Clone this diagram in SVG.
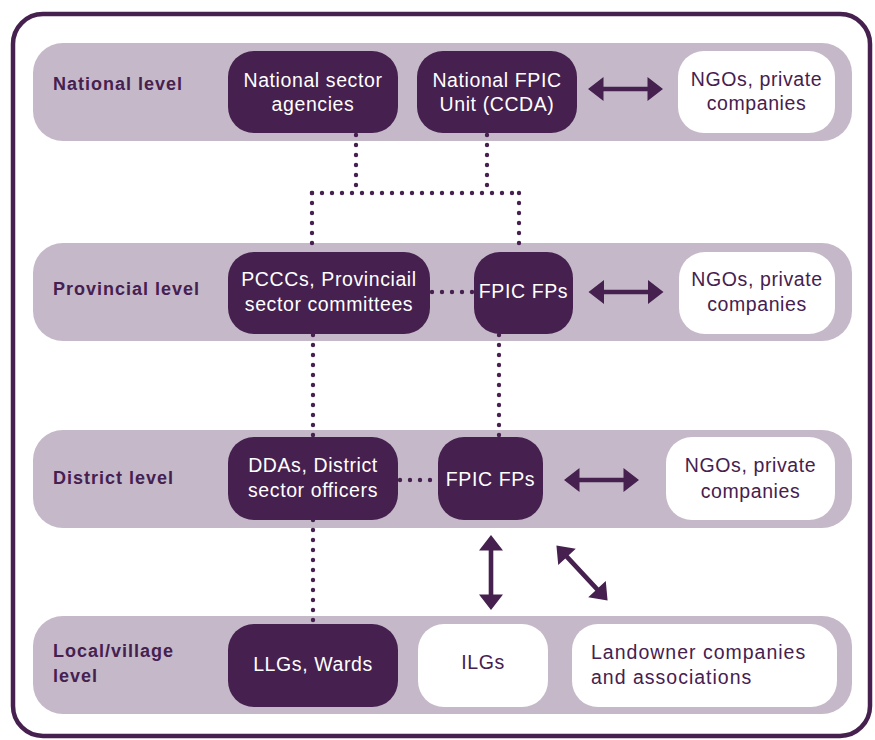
<svg xmlns="http://www.w3.org/2000/svg" width="875" height="740" viewBox="0 0 875 740">
  <style>
    .band { fill: #c5b9c9; }
    .dark { fill: #46204f; }
    .light { fill: #ffffff; }
    .lvl { font-family: "Liberation Sans", Arial, sans-serif; font-weight: bold; font-size: 18px; letter-spacing: 1px; fill: #46204f; }
    .tw { font-family: "Liberation Sans", Arial, sans-serif; font-size: 19.5px; letter-spacing: 0.6px; fill: #ffffff; text-anchor: middle; }
    .tp { font-family: "Liberation Sans", Arial, sans-serif; font-size: 19.5px; letter-spacing: 0.6px; fill: #46204f; text-anchor: middle; }
    .tl { font-family: "Liberation Sans", Arial, sans-serif; font-size: 19.5px; letter-spacing: 1px; fill: #46204f; }
    .dot { fill: none; stroke: #46204f; stroke-width: 4.4; stroke-linecap: round; stroke-dasharray: 0 10; }
    .arr { fill: #46204f; }
  </style>
  <defs>
    <path id="dbl" d="M-37.5,0 L-22,-12 L-22,-2.3 L22,-2.3 L22,-12 L37.5,0 L22,12 L22,2.3 L-22,2.3 L-22,12 Z"/>
  </defs>

  <rect x="13" y="14" width="857" height="722" rx="30" ry="30" fill="#ffffff" stroke="#46204f" stroke-width="4.5"/>

  <!-- level bands -->
  <g id="bands">
    <rect class="band" x="33" y="43" width="819" height="98" rx="30"/>
    <rect class="band" x="33" y="243" width="819" height="98" rx="30"/>
    <rect class="band" x="33" y="430" width="819" height="98" rx="30"/>
    <rect class="band" x="33" y="616" width="819" height="98" rx="30"/>
  </g>

  <!-- dotted links between bodies, and exchange arrows -->
  <g id="connectors">
    <path class="dot" d="M356,135 V193"/>
    <path class="dot" d="M487,135 V193"/>
    <path class="dot" d="M312,193 H519"/>
    <path class="dot" d="M312,193 V252"/>
    <path class="dot" d="M519,193 V252"/>
    <path class="dot" d="M432,292 H474"/>
    <path class="dot" d="M313,335 V437"/>
    <path class="dot" d="M499,335 V437"/>
    <path class="dot" d="M400,480 H438"/>
    <path class="dot" d="M313,520 V624"/>
    <use class="arr" href="#dbl" transform="translate(625.5,89)"/>
    <use class="arr" href="#dbl" transform="translate(626,292)"/>
    <use class="arr" href="#dbl" transform="translate(601.5,480)"/>
    <use class="arr" href="#dbl" transform="translate(491,572.5) rotate(90)"/>
    <use class="arr" href="#dbl" transform="translate(582,573) rotate(47)"/>
  </g>

  <!-- level labels -->
  <g id="labels">
    <text class="lvl" x="53" y="90">National level</text>
    <text class="lvl" x="53" y="295">Provincial level</text>
    <text class="lvl" x="53" y="484">District level</text>
    <text class="lvl" x="53" y="657">Local/village</text>
    <text class="lvl" x="53" y="682">level</text>
  </g>

  <!-- national level -->
  <g id="national-sector-agencies">
    <rect class="dark" x="228" y="51" width="170" height="82" rx="26"/>
    <text class="tw" x="313" y="87">National sector</text>
    <text class="tw" x="313" y="111">agencies</text>
  </g>
  <g id="national-fpic-unit">
    <rect class="dark" x="417" y="51" width="160" height="82" rx="26"/>
    <text class="tw" x="497" y="87">National FPIC</text>
    <text class="tw" x="497" y="111">Unit (CCDA)</text>
  </g>
  <g id="national-ngos">
    <rect class="light" x="678" y="51" width="157" height="82" rx="26"/>
    <text class="tp" x="756.5" y="86">NGOs, private</text>
    <text class="tp" x="756.5" y="110">companies</text>
  </g>

  <!-- provincial level -->
  <g id="pcccs">
    <rect class="dark" x="228" y="252" width="202" height="82" rx="26"/>
    <text class="tw" x="329" y="286">PCCCs, Provinciail</text>
    <text class="tw" x="329" y="311">sector committees</text>
  </g>
  <g id="provincial-fpic-fps">
    <rect class="dark" x="474" y="252" width="99" height="82" rx="26"/>
    <text class="tw" x="523.5" y="298">FPIC FPs</text>
  </g>
  <g id="provincial-ngos">
    <rect class="light" x="679" y="252" width="156" height="82" rx="26"/>
    <text class="tp" x="757" y="286">NGOs, private</text>
    <text class="tp" x="757" y="311">companies</text>
  </g>

  <!-- district level -->
  <g id="ddas">
    <rect class="dark" x="228" y="437" width="170" height="83" rx="26"/>
    <text class="tw" x="313" y="472">DDAs, District</text>
    <text class="tw" x="313" y="497">sector officers</text>
  </g>
  <g id="district-fpic-fps">
    <rect class="dark" x="438" y="437" width="105" height="83" rx="26"/>
    <text class="tw" x="490.5" y="486">FPIC FPs</text>
  </g>
  <g id="district-ngos">
    <rect class="light" x="666" y="437" width="169" height="83" rx="26"/>
    <text class="tp" x="750.5" y="472">NGOs, private</text>
    <text class="tp" x="750.5" y="498">companies</text>
  </g>

  <!-- local / village level -->
  <g id="llgs-wards">
    <rect class="dark" x="228" y="624" width="170" height="83" rx="26"/>
    <text class="tw" x="313" y="671">LLGs, Wards</text>
  </g>
  <g id="ilgs">
    <rect class="light" x="418" y="624" width="130" height="83" rx="26"/>
    <text class="tp" x="483" y="669">ILGs</text>
  </g>
  <g id="landowner-companies">
    <rect class="light" x="572" y="624" width="265" height="83" rx="26"/>
    <text class="tl" x="591" y="659">Landowner companies</text>
    <text class="tl" x="591" y="684">and associations</text>
  </g>
</svg>
